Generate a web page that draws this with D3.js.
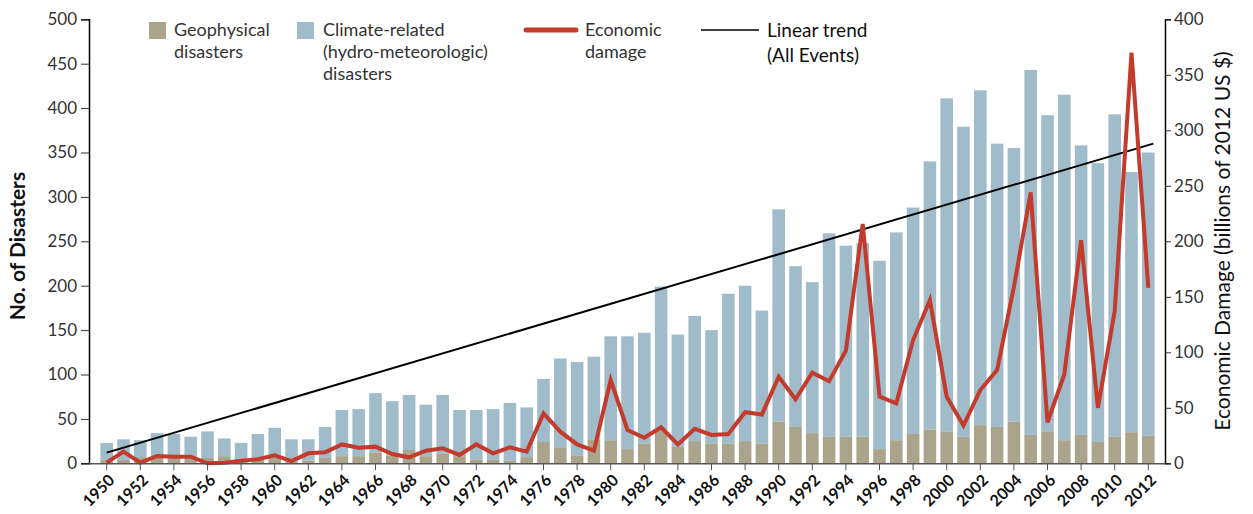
<!DOCTYPE html>
<html>
<head>
<meta charset="utf-8">
<script src="https://cdn.jsdelivr.net/npm/d3@7"></script>
<style>
  body { margin: 0; background: #fff; }
  svg { display: block; }
  text { font-family: Lato, "Open Sans", sans-serif; }
</style>
</head>
<body>
<script>
// data, one value per year 1950..2012
const years = d3.range(1950, 2013);

const geophysical = [4,4,7,7,6,6,6,8,5,4, 6,2,3,6,8,8,12,9,15,8,
  11,8,4,4,3,7,24,18,9,27, 26,16,22,38,19,25,22,22,25,22,
  47,41,34,30,30,30,16,26,33,38, 36,30,43,41,47,32,36,26,32,24,
  30,35,31];

const climate = [19,23,19,27,27,24,30,20,18,29, 34,25,24,35,52,53,67,61,62,58,
  66,52,56,57,65,56,71,100,105,93, 117,127,125,161,126,141,128,169,175,150,
  239,181,170,229,215,218,212,234,255,302, 375,349,377,319,308,411,356,389,326,314,
  363,293,319];

// billions of 2012 US $
const damage = [0.6,10.5,0.6,6.6,6,6,0,0.6,2.4,3.6, 7.2,2,9,10,17,14,15,8.4,5.4,11.4,
  13.5,7.5,17,9,14.4,10.5,45,28.5,17,11.4, 75,30,23,32.4,17,31,25.5,26.4,46,44,
  78,57.7,81.7,74,101.5,215.6,60,54,111,147, 60,34,66,84,159,244,37,80,201,50,
  137,370,158];

// end points of the linear trend (all events)
const trendYears = [1950, 2012.3];
const trendValues = [12, 360];

const leftTicks = [0,50,100,150,200,250,300,350,400,450,500];
const rightTicks = [0,50,100,150,200,250,300,350,400];
const yearTicks = years.filter(function(d){ return d % 2 === 0; });

const width = 1253;
const height = 514;
const plotLeft = 89, plotRight = 1165, plotTop = 19.3, plotBottom = 463.3;

const blue = "#a0bccb";
const tan = "#aba48c";
const red = "#c23b2c";

var svg = d3.select("body").append("svg")
  .attr("width", width)
  .attr("height", height);

var x = d3.scaleBand()
  .domain(years)
  .range([98.3, 1156.7])
  .paddingInner(0.25)
  .paddingOuter(0.125);

var half = x.bandwidth() / 2;

// same positions but continuous, for the line marks
var xLin = d3.scaleLinear()
  .domain([1950, 2012])
  .range([x(1950) + half, x(2012) + half]);

var yLeft = d3.scaleLinear().domain([0, 500]).range([plotBottom, plotTop]);
var yRight = d3.scaleLinear().domain([0, 400]).range([plotBottom, plotTop]);

//bars: climate stacked on top of geophysical

var g = svg.selectAll("g.year")
  .data(years)
  .enter()
  .append("g")
  .attr("class", "year");

g.append("rect")
  .attr("x", function(d){ return x(d); })
  .attr("width", x.bandwidth())
  .attr("y", function(d, i){ return yLeft(geophysical[i] + climate[i]); })
  .attr("height", function(d, i){ return yLeft(geophysical[i]) - yLeft(geophysical[i] + climate[i]); })
  .attr("fill", blue);

g.append("rect")
  .attr("x", function(d){ return x(d); })
  .attr("width", x.bandwidth())
  .attr("y", function(d, i){ return yLeft(geophysical[i]); })
  .attr("height", function(d, i){ return yLeft(0) - yLeft(geophysical[i]); })
  .attr("fill", tan);

//trend line

svg.append("line")
  .attr("x1", xLin(trendYears[0]))
  .attr("y1", yLeft(trendValues[0]))
  .attr("x2", xLin(trendYears[1]))
  .attr("y2", yLeft(trendValues[1]))
  .attr("stroke", "#000")
  .attr("stroke-width", 2);

//economic damage line on the right scale

var line = d3.line()
  .x(function(d, i){ return xLin(years[i]); })
  .y(function(d){ return yRight(d); });

svg.append("path")
  .datum(damage)
  .attr("d", line)
  .attr("fill", "none")
  .attr("stroke", red)
  .attr("stroke-width", 4)
  .attr("stroke-linejoin", "miter");

//axes

var leftAxis = svg.append("g")
  .attr("transform", "translate(" + plotLeft + ",0)")
  .call(d3.axisLeft(yLeft).tickValues(leftTicks).tickSize(8).tickPadding(4));

var rightAxis = svg.append("g")
  .attr("transform", "translate(" + plotRight + ",0)")
  .call(d3.axisRight(yRight).tickValues(rightTicks).tickSize(6).tickPadding(3));

[leftAxis, rightAxis].forEach(function(a){
  a.select(".domain").attr("stroke", "#000").attr("stroke-width", 1.5);
  a.selectAll(".tick line").attr("stroke", "#333");
  a.selectAll("text")
    .style("font-size", "17px")
    .attr("fill", "#333");
});

var bottomAxis = svg.append("g")
  .attr("transform", "translate(0," + plotBottom + ")")
  .call(d3.axisBottom(x).tickValues(yearTicks).tickSize(7).tickSizeOuter(0));

bottomAxis.select(".domain")
  .attr("d", "M" + plotLeft + ",0.5H" + plotRight)
  .attr("stroke", "#555")
  .attr("stroke-width", 1.5);

bottomAxis.selectAll(".tick line").attr("stroke", "#555");

bottomAxis.selectAll("text")
  .attr("x", 0)
  .attr("y", 0)
  .attr("dy", "0.35em")
  .attr("transform", "translate(5,14) rotate(-45)")
  .style("text-anchor", "end")
  .style("font-size", "16px")
  .style("font-weight", "bold")
  .attr("fill", "#111");

//axis titles

svg.append("text")
  .attr("transform", "translate(25,246) rotate(-90)")
  .style("text-anchor", "middle")
  .style("font-size", "21px")
  .style("font-weight", "bold")
  .attr("fill", "#111")
  .text("No. of Disasters");

svg.append("text")
  .attr("transform", "translate(1230,241) rotate(-90)")
  .style("text-anchor", "middle")
  .style("font-size", "21px")
  .attr("fill", "#111")
  .text("Economic Damage (billions of 2012 US $)");

//legend

function legendText(xPos, lines, baseline, step, size, color){
  var t = svg.append("text")
    .attr("x", xPos)
    .attr("y", baseline)
    .style("font-size", size + "px")
    .attr("fill", color);
  lines.forEach(function(s, i){
    t.append("tspan")
      .attr("x", xPos)
      .attr("y", baseline + i * step)
      .text(s);
  });
}

svg.append("rect").attr("x", 149).attr("y", 22).attr("width", 17).attr("height", 17).attr("fill", tan);
legendText(174, ["Geophysical", "disasters"], 36, 22, 18, "#333");

svg.append("rect").attr("x", 297).attr("y", 22).attr("width", 17).attr("height", 17).attr("fill", blue);
legendText(323, ["Climate-related", "(hydro-meteorologic)", "disasters"], 36, 22, 18, "#333");

svg.append("line")
  .attr("x1", 526).attr("x2", 576).attr("y1", 30).attr("y2", 30)
  .attr("stroke", red).attr("stroke-width", 5).attr("stroke-linecap", "round");
legendText(585, ["Economic", "damage"], 36, 22, 18, "#333");

svg.append("line")
  .attr("x1", 701).attr("x2", 759).attr("y1", 30).attr("y2", 30)
  .attr("stroke", "#000").attr("stroke-width", 1.5);
legendText(767, ["Linear trend", "(All Events)"], 37, 25, 19, "#111");
</script>
</body>
</html>
